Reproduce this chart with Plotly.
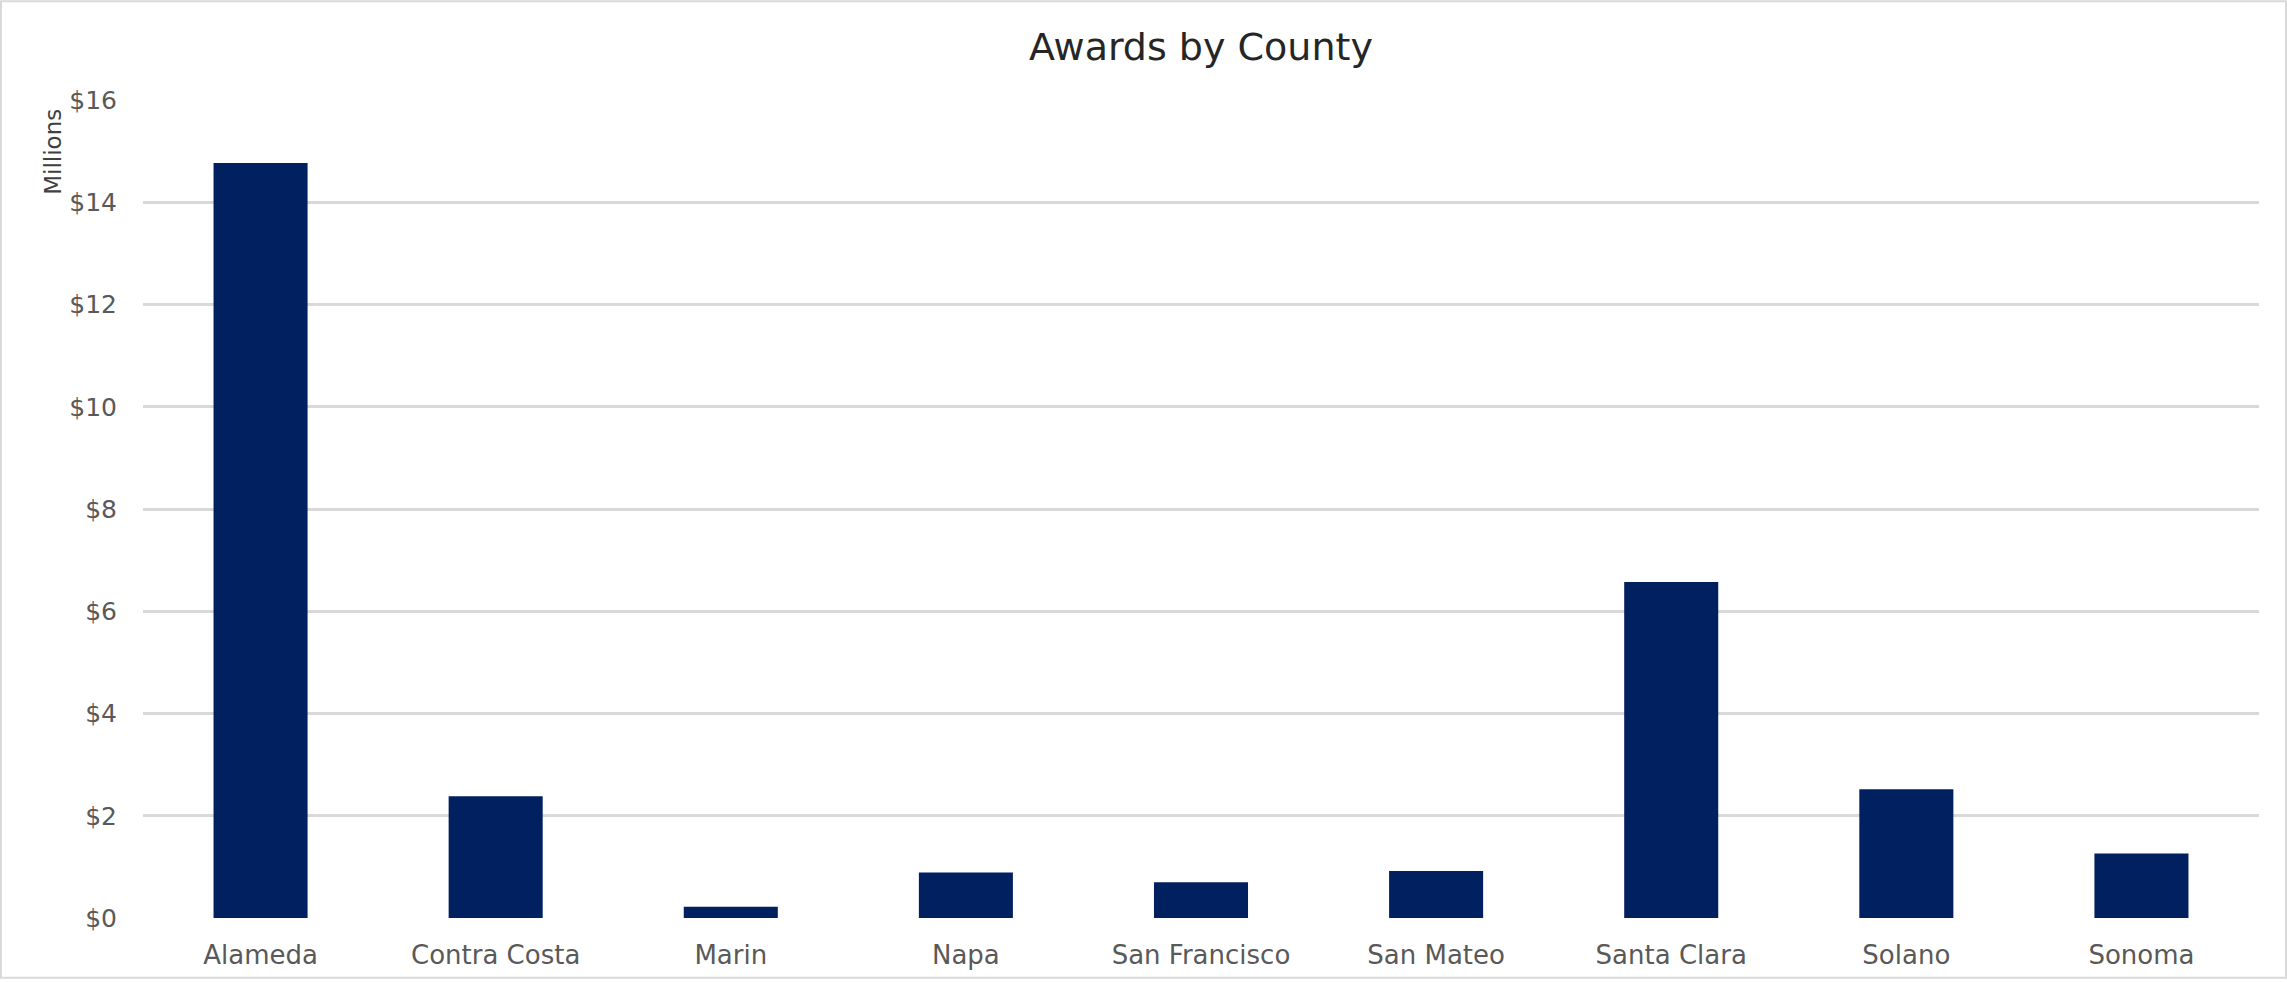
import plotly.graph_objects as go

counties = ["Alameda", "Contra Costa", "Marin", "Napa", "San Francisco",
            "San Mateo", "Santa Clara", "Solano", "Sonoma"]
awards_millions = [14.77, 2.38, 0.22, 0.89, 0.70, 0.92, 6.57, 2.52, 1.26]
y_ticks = [0, 2, 4, 6, 8, 10, 12, 14, 16]
y_tick_labels = ["$" + str(v) for v in y_ticks]

W, H = 2287, 982
ML, MR, MT, MB = 143, 28, 100, 61
FONT = "DejaVu Sans"

fig = go.Figure(go.Bar(
    x=counties, y=awards_millions,
    marker=dict(color="#002060", line=dict(width=0)),
    width=0.4,
))

pw = W - ML - MR
ph = H - MT - MB

fig.update_layout(
    width=W, height=H,
    margin=dict(l=ML, r=MR, t=MT, b=MB),
    paper_bgcolor="white", plot_bgcolor="white",
    showlegend=False,
    font=dict(family=FONT, color="#595959"),
    title=dict(text="Awards by County", x=0.5, xanchor="center",
               xref="paper", y=1 - 47 / H, yanchor="middle", yref="container",
               font=dict(family=FONT, size=38, color="#262626")),
    xaxis=dict(showgrid=False, showline=False, zeroline=False,
               ticks="outside", ticklen=14, tickcolor="rgba(0,0,0,0)",
               tickfont=dict(size=26, color="#595959", family=FONT)),
    yaxis=dict(range=[0, 16], tickvals=y_ticks, ticktext=y_tick_labels,
               showgrid=True, gridcolor="#d9d9d9", gridwidth=2.5,
               zeroline=False, showline=False,
               ticks="outside", ticklen=20, tickcolor="rgba(0,0,0,0)",
               tickfont=dict(size=25, color="#595959", family=FONT)),
    annotations=[dict(text="Millions", textangle=-90, showarrow=False,
                      xref="paper", yref="paper",
                      x=(53 - ML) / pw, y=1 - (152 - MT) / ph,
                      xanchor="center", yanchor="middle",
                      font=dict(size=23, color="#404040", family=FONT))],
    shapes=[dict(type="rect", xref="paper", yref="paper",
                 x0=(1 - ML) / pw, x1=(W - 1 - ML) / pw,
                 y0=-(MB - 1) / ph, y1=1 + (MT - 1) / ph,
                 line=dict(color="#d9d9d9", width=2), layer="below")],
)

fig.write_html("out.html", config={"displayModeBar": False},
               post_script="document.body.style.margin='0';")
